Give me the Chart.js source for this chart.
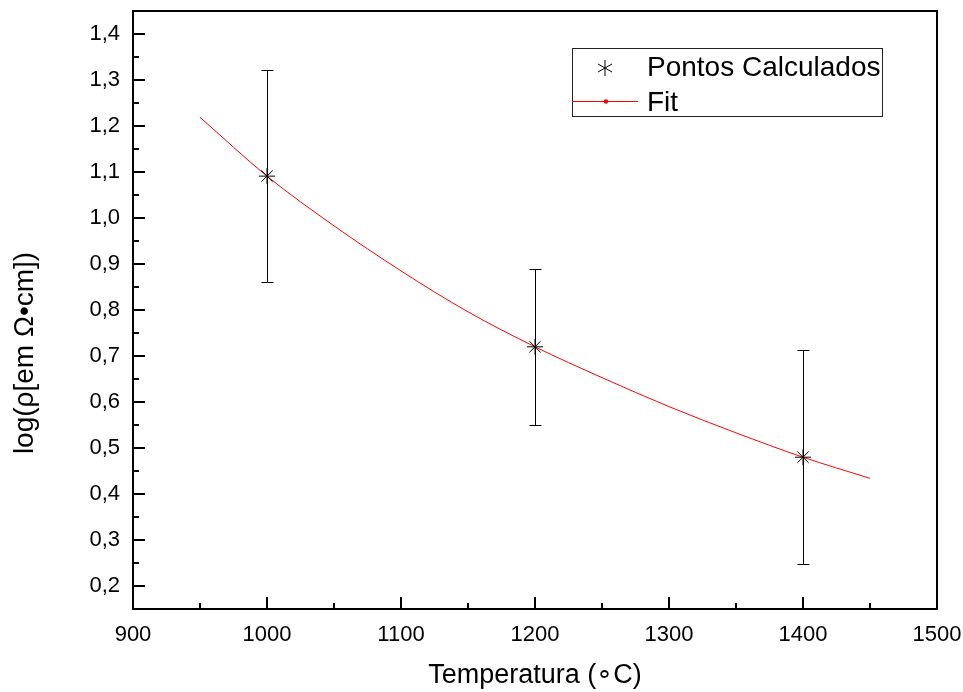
<!DOCTYPE html>
<html>
<head>
<meta charset="utf-8">
<script src="https://cdn.jsdelivr.net/npm/chart.js@4"></script>
<style>
html,body{margin:0;padding:0;background:#fff;}
#wrap{width:963px;height:692px;position:relative;}
</style>
</head>
<body>
<div id="wrap"><canvas id="c"></canvas></div>
<script>
// Data
const temps = [1000, 1200, 1400];
const logRho = [1.091, 0.720, 0.480];
const errs = [0.230, 0.169, 0.233];
const fitT = [950, 1000, 1050, 1100, 1150, 1200, 1250, 1300, 1350, 1400, 1450];
const fitY = [1.219, 1.091, 0.983, 0.885, 0.796, 0.720, 0.653, 0.590, 0.533, 0.480, 0.434];
const xTicks = [900, 1000, 1100, 1200, 1300, 1400, 1500];
const yTicks = [0.2, 0.3, 0.4, 0.5, 0.6, 0.7, 0.8, 0.9, 1.0, 1.1, 1.2, 1.3, 1.4];
const seriesNames = ['Pontos Calculados', 'Fit'];
const xTitle = 'Temperatura (\u2218C)';
const yTitle = 'log(\u03C1[em \u03A9\u2022cm])';

const FONT = "'Liberation Sans', Arial, sans-serif";

const framePlugin = {
  id: 'frame',
  beforeDatasetsDraw(chart) {
    const {ctx, scales: {x, y}} = chart;
    ctx.save();
    ctx.strokeStyle = '#000';
    ctx.lineWidth = 1;
    temps.forEach((t, i) => {
      const px = Math.round(x.getPixelForValue(t)) + 0.5;
      const yt = Math.round(y.getPixelForValue(logRho[i] + errs[i])) + 0.5;
      const yb = Math.round(y.getPixelForValue(logRho[i] - errs[i])) + 0.5;
      ctx.beginPath();
      ctx.moveTo(px, yt); ctx.lineTo(px, yb);
      ctx.moveTo(px - 6, yt); ctx.lineTo(px + 6, yt);
      ctx.moveTo(px - 6, yb); ctx.lineTo(px + 6, yb);
      ctx.stroke();
    });
    ctx.restore();
  },
  afterDraw(chart) {
    const {ctx, chartArea: a, scales: {x, y}} = chart;
    ctx.save();
    ctx.strokeStyle = '#000';
    ctx.lineWidth = 2;
    ctx.strokeRect(a.left, a.top, a.right - a.left, a.bottom - a.top);
    ctx.beginPath();
    for (let i = 0; i < xTicks.length; i++) {
      const px = x.getPixelForValue(xTicks[i]);
      ctx.moveTo(px, a.bottom); ctx.lineTo(px, a.bottom - 12);
      if (i < xTicks.length - 1) {
        const pm = x.getPixelForValue((xTicks[i] + xTicks[i + 1]) / 2);
        ctx.moveTo(pm, a.bottom); ctx.lineTo(pm, a.bottom - 6);
      }
    }
    for (let i = 0; i < yTicks.length; i++) {
      const py = y.getPixelForValue(yTicks[i]);
      ctx.moveTo(a.left, py); ctx.lineTo(a.left + 12, py);
      const pm = y.getPixelForValue(yTicks[i] - 0.05);
      ctx.moveTo(a.left, pm); ctx.lineTo(a.left + 6, pm);
    }
    const ptop = y.getPixelForValue(yTicks[yTicks.length - 1] + 0.05);
    ctx.moveTo(a.left, ptop); ctx.lineTo(a.left + 6, ptop);
    ctx.stroke();

    // y title
    ctx.save();
    ctx.translate(25, 353);
    ctx.rotate(-Math.PI / 2);
    ctx.fillStyle = '#000';
    ctx.font = '28px ' + FONT;
    ctx.textAlign = 'center';
    ctx.textBaseline = 'middle';
    ctx.fillText(yTitle, 0, 0);
    ctx.restore();

    // legend
    const bx = 572, by = 48, bw = 310, bh = 68;
    ctx.lineWidth = 1;
    ctx.strokeStyle = '#222';
    ctx.strokeRect(bx + 0.5, by + 0.5, bw, bh);
    ctx.fillStyle = '#000';
    ctx.font = '28px ' + FONT;
    ctx.textBaseline = 'middle';
    ctx.textAlign = 'left';
    ctx.fillText(seriesNames[0], 647, by + 20);
    ctx.fillText(seriesNames[1], 647, by + 55);
    const sx = 605, sy = by + 20, r = 8;
    ctx.strokeStyle = '#000';
    ctx.beginPath();
    ctx.moveTo(sx, sy - r); ctx.lineTo(sx, sy + r);
    const d = r * 0.87, e = r * 0.5;
    ctx.moveTo(sx - d, sy - e); ctx.lineTo(sx + d, sy + e);
    ctx.moveTo(sx - d, sy + e); ctx.lineTo(sx + d, sy - e);
    ctx.stroke();
    ctx.strokeStyle = '#ff0000';
    ctx.beginPath();
    ctx.moveTo(bx, by + 53.5); ctx.lineTo(638, by + 53.5);
    ctx.stroke();
    ctx.fillStyle = '#ff0000';
    ctx.beginPath();
    ctx.arc(606, by + 53.5, 2.2, 0, Math.PI * 2);
    ctx.fill();
    ctx.restore();
  }
};

new Chart(document.getElementById('c'), {
  type: 'scatter',
  data: {
    datasets: [
      {
        label: seriesNames[1],
        data: fitT.map((t, i) => ({x: t, y: fitY[i]})),
        showLine: true,
        borderColor: '#ff0000',
        borderWidth: 1,
        pointRadius: 0,
        cubicInterpolationMode: 'monotone',
        order: 2
      },
      {
        label: seriesNames[0],
        data: temps.map((t, i) => ({x: t, y: logRho[i]})),
        pointStyle: 'star',
        pointRadius: 8,
        borderColor: '#000',
        backgroundColor: '#000',
        borderWidth: 1,
        order: 1
      }
    ]
  },
  options: {
    responsive: true,
    maintainAspectRatio: false,
    animation: false,
    layout: {padding: {top: 11, right: 26, left: 0, bottom: 0}},
    plugins: {legend: {display: false}, tooltip: {enabled: false}},
    scales: {
      x: {
        type: 'linear', min: 900, max: 1500,
        afterBuildTicks: s => { s.ticks = xTicks.map(v => ({value: v})); },
        afterFit: s => { s.height = 83; s.paddingLeft = 0; s.paddingRight = 0; },
        grid: {display: false, drawTicks: false},
        border: {display: false},
        ticks: {
          color: '#000', font: {family: FONT, size: 22}, padding: 13,
          maxRotation: 0, autoSkip: false,
          callback: v => String(v)
        },
        title: {
          display: true, text: xTitle, color: '#000',
          font: {family: FONT, size: 27}, padding: {top: 0, bottom: 0}
        }
      },
      y: {
        type: 'linear', min: 0.15, max: 1.45,
        afterBuildTicks: s => { s.ticks = yTicks.map(v => ({value: v})); },
        afterFit: s => { s.width = 133; s.paddingTop = 0; s.paddingBottom = 0; },
        grid: {display: false, drawTicks: false},
        border: {display: false},
        ticks: {
          color: '#000', font: {family: FONT, size: 22}, padding: 13,
          autoSkip: false,
          callback: v => v.toFixed(1).replace('.', ',')
        }
      }
    }
  },
  plugins: [framePlugin]
});
</script>
</body>
</html>
